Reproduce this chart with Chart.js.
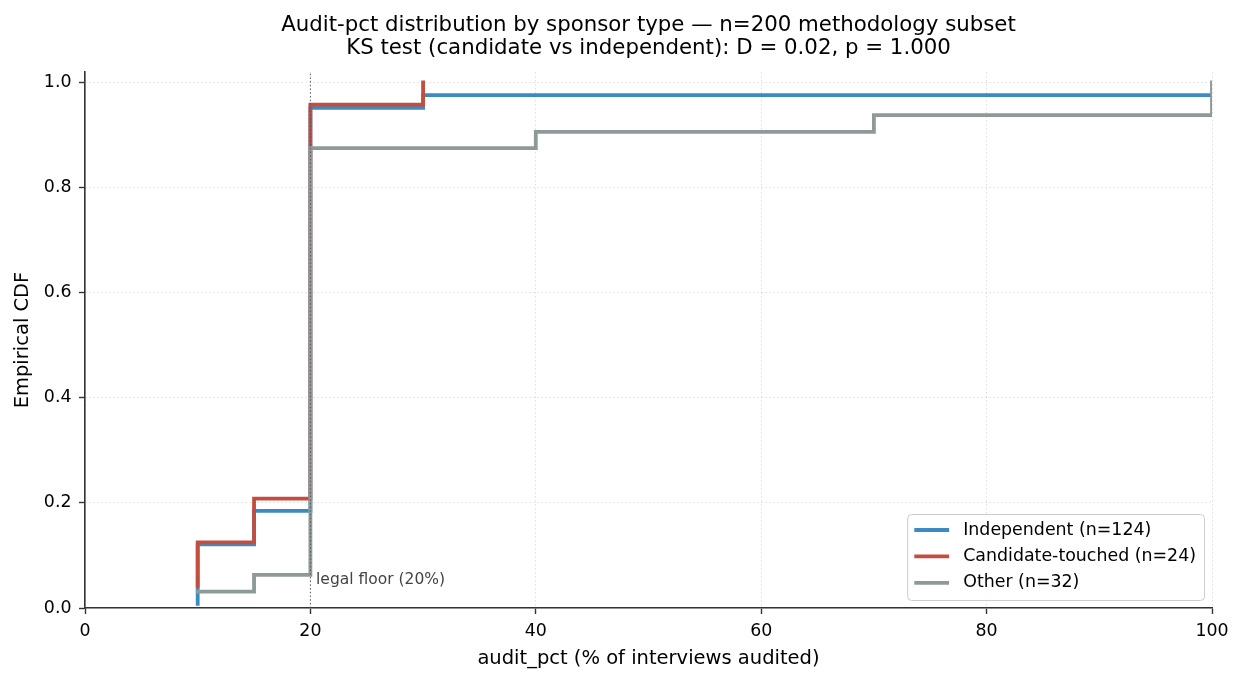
<!DOCTYPE html>
<html>
<head>
<meta charset="utf-8">
<script src="https://cdn.jsdelivr.net/npm/chart.js@4"></script>
<style>
  html, body { margin: 0; padding: 0; background: #fff; }
  canvas { display: block; }
</style>
</head>
<body>
<canvas id="cdfChart" width="1245" height="683"></canvas>
<script>
// ECDF step points (x = audit_pct, y = cumulative share)
const indepX = [10, 10, 15, 20, 30, 100];
const indepY = [0.008, 0.121, 0.185, 0.952, 0.976, 0.976];

const candX = [10, 10, 15, 20, 30];
const candY = [0.042, 0.125, 0.208, 0.958, 1.0];

const otherX = [10, 15, 20, 40, 70, 100];
const otherY = [0.031, 0.063, 0.875, 0.906, 0.938, 1.0];

const seriesLabels = ["Independent (n=124)", "Candidate-touched (n=24)", "Other (n=32)"];

const xTicks = [0, 20, 40, 60, 80, 100];
const yTicks = [0, 0.2, 0.4, 0.6, 0.8, 1.0];

const legalFloor = 20;
const floorNote = { text: "legal floor (20%)", x: 20.5, y: 0.046 };

const titleLines = [
  "Audit-pct distribution by sponsor type \u2014 n=200 methodology subset",
  "KS test (candidate vs independent): D = 0.02, p = 1.000",
];

const FONT = "'DejaVu Sans', Verdana, sans-serif";
const colors = {
  indep: "rgb(60, 138, 194)",
  cand: "rgb(195, 78, 64)",
  other: "rgb(142, 153, 153)",
};

function toPoints(xs, ys) {
  return xs.map((x, i) => ({ x, y: ys[i] }));
}

function stepDataset(label, xs, ys, color, order) {
  return {
    label,
    data: toPoints(xs, ys),
    stepped: "before",
    borderColor: color,
    backgroundColor: color,
    borderWidth: 3.8,
    borderCapStyle: "square",
    borderJoinStyle: "miter",
    pointRadius: 0,
    fill: false,
    order,
  };
}

// title centred over the plot area, like matplotlib's ax.set_title
const axesTitle = {
  id: "axesTitle",
  afterDraw(chart) {
    const { ctx, chartArea } = chart;
    const cx = (chartArea.left + chartArea.right) / 2;
    ctx.save();
    ctx.fillStyle = "#000";
    ctx.font = `21.3px ${FONT}`;
    ctx.textAlign = "center";
    ctx.textBaseline = "alphabetic";
    titleLines.forEach((line, i) => {
      ctx.fillText(line, cx, 31 + i * 23.3);
    });
    ctx.restore();
  },
};

// dotted reference line at the legal floor plus its note
const floorLine = {
  id: "floorLine",
  afterDatasetsDraw(chart) {
    const { ctx, chartArea, scales } = chart;
    const px = scales.x.getPixelForValue(legalFloor);
    ctx.save();
    ctx.strokeStyle = "#555";
    ctx.lineWidth = 1;
    ctx.setLineDash([1.4, 2.3]);
    ctx.beginPath();
    ctx.moveTo(px, chartArea.bottom);
    ctx.lineTo(px, chartArea.top);
    ctx.stroke();
    ctx.setLineDash([]);
    ctx.fillStyle = "#444";
    ctx.font = `15.5px ${FONT}`;
    ctx.textAlign = "left";
    ctx.textBaseline = "alphabetic";
    ctx.fillText(
      floorNote.text,
      scales.x.getPixelForValue(floorNote.x),
      scales.y.getPixelForValue(floorNote.y)
    );
    ctx.restore();
  },
};

// matplotlib-style legend box in the lower right corner
const boxLegend = {
  id: "boxLegend",
  afterDraw(chart) {
    const { ctx, chartArea } = chart;
    const sets = chart.data.datasets;
    ctx.save();
    ctx.font = `17.4px ${FONT}`;
    const textW = Math.max(...sets.map((d) => ctx.measureText(d.label).width));
    const rowH = 26.4;
    const w = 56 + textW + 8;
    const h = 86;
    const right = chartArea.right - 8;
    const bottom = chartArea.bottom - 8;
    const left = right - w;
    const top = bottom - h;

    ctx.beginPath();
    ctx.roundRect(left + 0.5, top + 0.5, w, h, 4);
    ctx.fillStyle = "rgba(255,255,255,0.8)";
    ctx.fill();
    ctx.strokeStyle = "#cccccc";
    ctx.lineWidth = 1;
    ctx.stroke();

    sets.forEach((d, i) => {
      const cy = top + 16 + i * rowH;
      ctx.strokeStyle = d.borderColor;
      ctx.lineWidth = 3.8;
      ctx.lineCap = "square";
      ctx.beginPath();
      ctx.moveTo(left + 7 + 2, cy);
      ctx.lineTo(left + 42 - 2, cy);
      ctx.stroke();
      ctx.fillStyle = "#000";
      ctx.textAlign = "left";
      ctx.textBaseline = "middle";
      ctx.fillText(d.label, left + 56, cy);
    });
    ctx.restore();
  },
};

new Chart(document.getElementById("cdfChart"), {
  type: "line",
  data: {
    datasets: [
      stepDataset(seriesLabels[0], indepX, indepY, colors.indep, 3),
      stepDataset(seriesLabels[1], candX, candY, colors.cand, 2),
      stepDataset(seriesLabels[2], otherX, otherY, colors.other, 1),
    ],
  },
  options: {
    responsive: false,
    devicePixelRatio: 1,
    animation: false,
    layout: { padding: { left: 0, right: 33, top: 72, bottom: 0 } },
    plugins: {
      legend: { display: false },
      tooltip: { enabled: false },
      title: { display: false },
    },
    scales: {
      x: {
        type: "linear",
        min: 0,
        max: 100,
        afterBuildTicks: (scale) => {
          scale.ticks = xTicks.map((value) => ({ value }));
        },
        afterFit: (scale) => {
          scale.height = 75;
        },
        ticks: {
          color: "#000",
          font: { family: FONT, size: 17.4 },
          padding: 7.5,
          maxRotation: 0,
          callback: (v) => String(v),
        },
        grid: {
          color: "rgba(200,200,200,0.6)",
          lineWidth: 1,
          tickColor: "#333",
          tickWidth: 1.4,
          tickLength: 6,
        },
        border: { display: true, color: "#333", width: 1.6, dash: [1.5, 2.5] },
        title: {
          display: true,
          text: "audit_pct (% of interviews audited)",
          color: "#000",
          font: { family: FONT, size: 19.5 },
          padding: { top: 0, bottom: 12 },
        },
      },
      y: {
        type: "linear",
        min: 0,
        max: 1.02,
        afterBuildTicks: (scale) => {
          scale.ticks = yTicks.map((value) => ({ value }));
        },
        afterFit: (scale) => {
          scale.width = 85;
        },
        ticks: {
          color: "#000",
          font: { family: FONT, size: 17.4 },
          padding: 7.5,
          callback: (v) => Number(v).toFixed(1),
        },
        grid: {
          color: "rgba(200,200,200,0.6)",
          lineWidth: 1,
          tickColor: "#333",
          tickWidth: 1.4,
          tickLength: 6,
        },
        border: { display: true, color: "#333", width: 1.6, dash: [1.5, 2.5] },
        title: {
          display: true,
          text: "Empirical CDF",
          color: "#000",
          font: { family: FONT, size: 19.5 },
          padding: { top: 11, bottom: 0 },
        },
      },
    },
  },
  plugins: [floorLine, boxLegend, axesTitle],
});
</script>
</body>
</html>
